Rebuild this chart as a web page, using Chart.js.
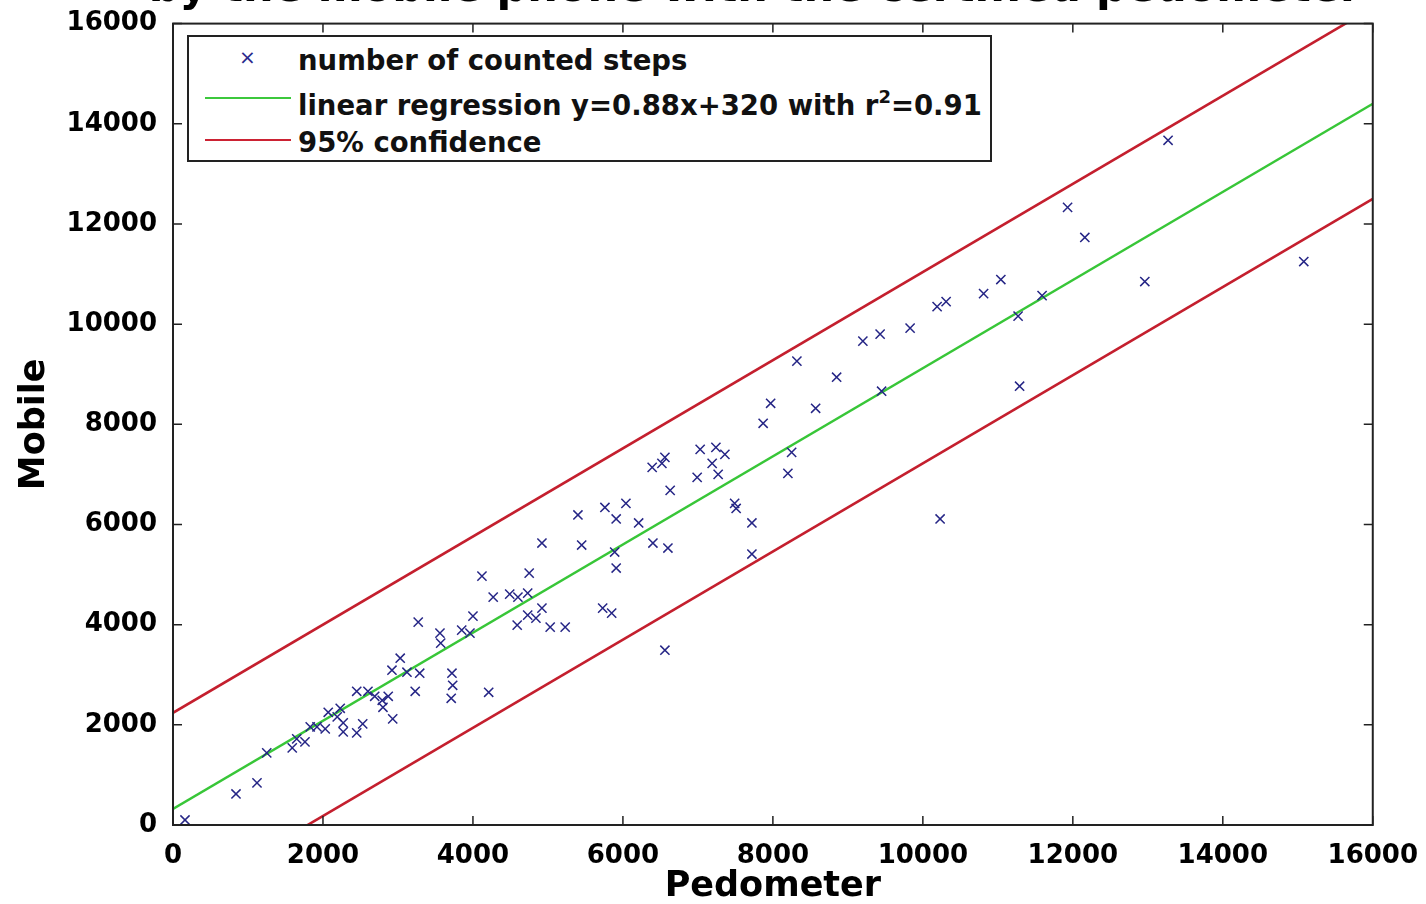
<!DOCTYPE html>
<html>
<head>
<meta charset="utf-8">
<script src="https://cdn.jsdelivr.net/npm/chart.js@4.4.1/dist/chart.umd.min.js"></script>
<style>
  body { margin: 0; background: #fff; }
  #wrap { position: relative; width: 1426px; height: 904px; overflow: hidden; background: #fff; }
  #title { position: absolute; left: 0; width: 1510px; top: -35px; text-align: center;
           font: bold 43px "DejaVu Sans"; line-height: 43px; white-space: nowrap; color: #000; }
  #legend { position: absolute; left: 187px; top: 35px; width: 801px; height: 123px;
            border: 2px solid #222; background: #fff; }
  .lg { position: absolute; font: bold 27.5px "DejaVu Sans"; line-height: 28px; color: #111; white-space: nowrap; }
  .lg sup { font-size: 18px; line-height: 0; vertical-align: 12px; }
  .sample { position: absolute; height: 2px; }
</style>
</head>
<body>
<div id="wrap">
  <canvas id="showChart" width="1426" height="904"></canvas>
  <div id="title">by the mobile phone with the certified pedometer</div>
  <div id="legend">
    <div class="lg" style="left:50px; top:8px; font: 20px 'DejaVu Sans'; color:#2a2a8c;">×</div>
    <div class="lg" style="left:109px; top:9px;">number of counted steps</div>
    <div class="sample" style="left:16px; top:60px; width:86px; background:#3cc83c;"></div>
    <div class="lg" style="left:109px; top:54px;">linear regression y=0.88x+320 with r<sup>2</sup>=0.91</div>
    <div class="sample" style="left:16px; top:102px; width:86px; background:#cc2233;"></div>
    <div class="lg" style="left:109px; top:91px;">95% confidence</div>
  </div>
</div>
<script>
// step counts
var pedometerSteps = [160, 840, 1120, 1250, 1590, 1650, 1760, 1830, 1920, 2030,
  2070, 2230, 2190, 2270, 2270, 2450, 2530, 2450, 2600, 2690,
  2790, 2800, 2870, 2930, 2920, 3030, 3120, 3230, 3290, 3270,
  3560, 3570, 3720, 3730, 3710, 3850, 3960, 4000, 4210, 4120,
  4270, 4490, 4600, 4730, 4750, 4590, 4730, 4840, 4920, 5030,
  5230, 4920, 5400, 5450, 5730, 5850, 5760, 5910, 6040, 6210,
  5890, 5910, 6400, 6600, 6560, 6630, 6390, 6520, 6560, 6990,
  7030, 7240, 7360, 7190, 7270, 7490, 7510, 7720, 7720, 7870,
  7970, 8200, 8250, 8320, 8570, 8850, 9200, 9430, 9450, 9830,
  10190, 10310, 10230, 10810, 11040, 11270, 11290, 11590, 11930, 12160,
  12960, 13270, 15080];
var mobileSteps = [100, 620, 840, 1440, 1540, 1720, 1660, 1960, 1960, 1920,
  2250, 2330, 2160, 2040, 1860, 1840, 2020, 2670, 2670, 2570,
  2490, 2350, 2570, 2120, 3090, 3330, 3050, 2670, 3030, 4050,
  3830, 3630, 3030, 2790, 2530, 3890, 3830, 4170, 2650, 4970,
  4550, 4610, 4550, 4630, 5030, 3990, 4190, 4130, 4330, 3950,
  3950, 5630, 6190, 5590, 4330, 4230, 6340, 6110, 6420, 6030,
  5450, 5130, 5630, 5530, 3490, 6680, 7140, 7220, 7340, 6940,
  7500, 7540, 7400, 7220, 7000, 6420, 6320, 6030, 5410, 8020,
  8420, 7020, 7440, 9260, 8320, 8940, 9660, 9800, 8660, 9920,
  10350, 10450, 6110, 10610, 10890, 10160, 8760, 10570, 12330, 11730,
  10850, 13670, 11250];

// line end points (x = 0 and x = 16000)
var lineX = [0, 16000];
var regressionY = [320, 14400];
var upperY = [2240, 16320];
var lowerY = [-1580, 12500];
var axisTicks = [0, 2000, 4000, 6000, 8000, 10000, 12000, 14000, 16000];

function toPoints(xs, ys) {
  return xs.map(function (v, i) { return { x: v, y: ys[i] }; });
}

var boxTicks = {
  id: 'boxTicks',
  afterDatasetsDraw: function (chart) {
    var ctx = chart.ctx, a = chart.chartArea, sx = chart.scales.x, sy = chart.scales.y;
    var len = 9;
    ctx.save();
    ctx.strokeStyle = '#222';
    ctx.lineWidth = 2;
    ctx.strokeRect(a.left, a.top, a.right - a.left, a.bottom - a.top);
    ctx.beginPath();
    axisTicks.forEach(function (t) {
      var px = sx.getPixelForValue(t);
      ctx.moveTo(px, a.bottom); ctx.lineTo(px, a.bottom - len);
      ctx.moveTo(px, a.top); ctx.lineTo(px, a.top + len);
      var py = sy.getPixelForValue(t);
      ctx.moveTo(a.left, py); ctx.lineTo(a.left + len, py);
      ctx.moveTo(a.right, py); ctx.lineTo(a.right - len, py);
    });
    ctx.lineWidth = 1.5;
    ctx.stroke();
    ctx.restore();
  }
};

var tickFont = { family: 'DejaVu Sans', weight: 'bold', size: 26 };
var titleFont = { family: 'DejaVu Sans', weight: 'bold', size: 35, lineHeight: 1 };

var chart = new Chart(document.getElementById('showChart'), {
  type: 'scatter',
  data: {
    datasets: [
      {
        label: 'number of counted steps',
        data: toPoints(pedometerSteps, mobileSteps),
        pointStyle: 'crossRot',
        pointRadius: 6.5,
        borderColor: '#262686',
        backgroundColor: '#262686',
        borderWidth: 1.5
      },
      {
        label: 'linear regression',
        type: 'line',
        data: toPoints(lineX, regressionY),
        borderColor: '#38c638',
        borderWidth: 2.4,
        pointRadius: 0
      },
      {
        label: '95% confidence',
        type: 'line',
        data: toPoints(lineX, upperY),
        borderColor: '#c41f2e',
        borderWidth: 2.6,
        pointRadius: 0
      },
      {
        label: '95% confidence lower',
        type: 'line',
        data: toPoints(lineX, lowerY),
        borderColor: '#c41f2e',
        borderWidth: 2.6,
        pointRadius: 0
      }
    ]
  },
  options: {
    responsive: false,
    animation: false,
    layout: { padding: { left: 0, right: 53, top: 8, bottom: 0 } },
    plugins: { legend: { display: false }, tooltip: { enabled: false } },
    scales: {
      x: {
        type: 'linear',
        min: 0, max: 16000,
        afterBuildTicks: function (s) { s.ticks = axisTicks.map(function (v) { return { value: v }; }); },
        afterFit: function (s) { s.height = 79; },
        grid: { display: false },
        border: { display: false },
        ticks: { font: tickFont, color: '#000', padding: 8, maxRotation: 0, callback: function (v) { return String(v); } },
        title: { display: true, text: 'Pedometer', font: titleFont, color: '#000', padding: 0 }
      },
      y: {
        type: 'linear',
        min: 0, max: 16000,
        afterBuildTicks: function (s) { s.ticks = axisTicks.map(function (v) { return { value: v }; }); },
        afterFit: function (s) { s.width = 173; },
        grid: { display: false },
        border: { display: false },
        ticks: { font: tickFont, color: '#000', padding: 8, callback: function (v) { return String(v); } },
        title: { display: true, text: 'Mobile', font: titleFont, color: '#000', padding: { top: 17, bottom: 0 } }
      }
    }
  },
  plugins: [boxTicks]
});
</script>
</body>
</html>
